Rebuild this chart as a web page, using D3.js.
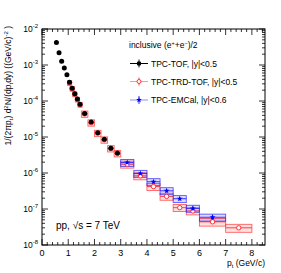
<!DOCTYPE html>
<html>
<head>
<meta charset="utf-8">
<script src="https://cdn.jsdelivr.net/npm/d3@7"></script>
<style>
  body { margin: 0; background: #fff; }
  text { font-family: "Liberation Sans", Arial, sans-serif; fill: #000; }
</style>
</head>
<body>
<div id="vis"></div>
<script>
// data
// TPC-TOF, |y|<0.5
const ptTof = [0.55, 0.65, 0.75, 0.85, 0.95, 1.05, 1.15, 1.25, 1.35, 1.45, 1.625, 1.875, 2.125, 2.375, 2.625, 2.875];
const yTof = [4.2e-3, 2.2e-3, 1.28e-3, 8.2e-4, 5.4e-4, 3.3e-4, 2.25e-4, 1.6e-4, 1.14e-4, 8.1e-5, 4.5e-5, 2.6e-5, 1.31e-5, 8.6e-6, 4.9e-6, 3.6e-6];

// TPC-TRD-TOF, |y|<0.5
const ptTrd = [1.05, 1.15, 1.25, 1.35, 1.45, 1.625, 1.875, 2.125, 2.375, 2.625, 2.875, 3.25, 3.75, 4.25, 4.75, 5.25, 5.75, 6.5, 7.5];
const binTrd = [0.1, 0.1, 0.1, 0.1, 0.1, 0.25, 0.25, 0.25, 0.25, 0.25, 0.25, 0.5, 0.5, 0.5, 0.5, 0.5, 0.5, 1, 1];
const yTrd = [3.2e-4, 2.2e-4, 1.55e-4, 1.1e-4, 7.9e-5, 4.4e-5, 2.5e-5, 1.28e-5, 8.4e-6, 4.8e-6, 3.5e-6, 1.75e-6, 8.3e-7, 4.2e-7, 2.24e-7, 1.09e-7, 8.8e-8, 4.4e-8, 3.0e-8];
const sysTrd = [0.15, 0.15, 0.15, 0.15, 0.15, 0.2, 0.2, 0.2, 0.2, 0.2, 0.2, 0.22, 0.22, 0.22, 0.22, 0.22, 0.22, 0.24, 0.25];

// TPC-EMCal, |y|<0.6
const ptEmc = [3.25, 3.75, 4.25, 4.75, 5.25, 5.75, 6.5];
const binEmc = [0.5, 0.5, 0.5, 0.5, 0.5, 0.5, 1];
const yEmc = [1.95e-6, 9.7e-7, 5.7e-7, 3.2e-7, 1.93e-7, 1.04e-7, 5.9e-8];
const sysEmc = [0.22, 0.22, 0.22, 0.22, 0.22, 0.22, 0.22];
const statEmc = [0.08, 0.08, 0.09, 0.1, 0.1, 0.12, 0.14];

const yTicks = [1e-8, 1e-7, 1e-6, 1e-5, 1e-4, 1e-3, 1e-2];
const xTicks = [0, 1, 2, 3, 4, 5, 6, 7, 8];

// frame
const margin = { top: 29, right: 16, bottom: 28, left: 42 };
const W = 281, H = 273;
const width = W - margin.left - margin.right;
const height = H - margin.top - margin.bottom;

const svg = d3.select('#vis')
    .append('svg')
    .attr('width', W)
    .attr('height', H);

const g = svg.append('g')
    .attr('transform', `translate(${margin.left},${margin.top})`);

// scales
const xScale = d3.scaleLinear().domain([0, 8.5]).range([0, width]);
const yScale = d3.scaleLog().domain([1e-8, 1e-2]).range([height, 0]);

// ticks (ROOT style, inward, on all four sides)
const xMinor = d3.range(0, 8.5001, 0.2).filter(v => Math.abs(v - Math.round(v)) > 1e-6);
const yMinor = [];
for (let e = -8; e < -2; e++) for (let k = 2; k <= 9; k++) yMinor.push(k * Math.pow(10, e));

const ticks = g.append('g').attr('stroke', '#000').attr('stroke-width', 0.8);
[[xTicks, 6], [xMinor, 3]].forEach(([vals, len]) => {
    vals.forEach(v => {
        const x = xScale(v);
        ticks.append('line').attr('x1', x).attr('x2', x).attr('y1', height).attr('y2', height - len);
        ticks.append('line').attr('x1', x).attr('x2', x).attr('y1', 0).attr('y2', len);
    });
});
[[yTicks, 6], [yMinor, 3]].forEach(([vals, len]) => {
    vals.forEach(v => {
        const y = yScale(v);
        ticks.append('line').attr('x1', 0).attr('x2', len).attr('y1', y).attr('y2', y);
        ticks.append('line').attr('x1', width).attr('x2', width - len).attr('y1', y).attr('y2', y);
    });
});

g.append('rect')
    .attr('width', width).attr('height', height)
    .attr('fill', 'none').attr('stroke', '#000').attr('stroke-width', 1);

// tick labels
g.selectAll('.xlab').data(xTicks).join('text')
    .attr('class', 'xlab')
    .attr('x', d => xScale(d)).attr('y', height + 11)
    .attr('text-anchor', 'middle').attr('font-size', 9)
    .text(d => d);

const ylab = g.selectAll('.ylab').data(yTicks).join('text')
    .attr('class', 'ylab')
    .attr('x', -4).attr('y', d => yScale(d) + 3)
    .attr('text-anchor', 'end').attr('font-size', 8.5);
ylab.append('tspan').text('10');
ylab.append('tspan').attr('dy', -4).attr('font-size', 6).text(d => Math.round(Math.log10(d)));

// axis titles
const xt = g.append('text')
    .attr('x', width).attr('y', height + 21)
    .attr('text-anchor', 'end').attr('font-size', 8.5);
xt.append('tspan').text('p');
xt.append('tspan').attr('dy', 2).attr('font-size', 6).text('t');
xt.append('tspan').attr('dy', -2).text(' (GeV/c)');

const yt = svg.append('text')
    .attr('transform', `translate(11,${margin.top - 3}) rotate(-90)`)
    .attr('text-anchor', 'end').attr('font-size', 8.5);
yt.append('tspan').text('1/(2πp');
yt.append('tspan').attr('dy', 2).attr('font-size', 6).text('t');
yt.append('tspan').attr('dy', -2).text(') d');
yt.append('tspan').attr('dy', -3).attr('font-size', 6).text('2');
yt.append('tspan').attr('dy', 3).text('N/(dp');
yt.append('tspan').attr('dy', 2).attr('font-size', 6).text('t');
yt.append('tspan').attr('dy', -2).text('dy) ((GeV/c)');
yt.append('tspan').attr('dy', -3).attr('font-size', 6).text('-2');
yt.append('tspan').attr('dy', 3).text(' )');

// systematic boxes
const trd = ptTrd.map((p, i) => ({ p, w: binTrd[i], y: yTrd[i], s: sysTrd[i] }));
const emc = ptEmc.map((p, i) => ({ p, w: binEmc[i], y: yEmc[i], s: sysEmc[i], st: statEmc[i] }));
const tof = ptTof.map((p, i) => ({ p, y: yTof[i] }));

function boxes(data, color, cls) {
    g.selectAll('.' + cls).data(data).join('rect')
        .attr('class', cls)
        .attr('x', d => xScale(d.p - Math.max(d.w, 0.16) / 2))
        .attr('width', d => xScale(Math.max(d.w, 0.16)) - xScale(0))
        .attr('y', d => yScale(d.y * (1 + d.s)))
        .attr('height', d => yScale(d.y * (1 - d.s)) - yScale(d.y * (1 + d.s)))
        .attr('fill', color).attr('fill-opacity', 0.15)
        .attr('stroke', color).attr('stroke-opacity', 0.75).attr('stroke-width', 0.9);
    // x error line
    g.selectAll('.' + cls + 'x').data(data).join('line')
        .attr('class', cls + 'x')
        .attr('x1', d => xScale(d.p - d.w / 2)).attr('x2', d => xScale(d.p + d.w / 2))
        .attr('y1', d => yScale(d.y)).attr('y2', d => yScale(d.y))
        .attr('stroke', color).attr('stroke-width', 0.9);
}

boxes(trd, '#ff3030', 'trd');
boxes(emc, '#2020ff', 'emc');

// markers
g.selectAll('.trdm').data(trd).join('circle')
    .attr('class', 'trdm')
    .attr('cx', d => xScale(d.p)).attr('cy', d => yScale(d.y))
    .attr('r', 2.2).attr('fill', '#fff').attr('stroke', '#ff2020').attr('stroke-width', 0.9);

g.selectAll('.emcs').data(emc).join('line')
    .attr('class', 'emcs')
    .attr('x1', d => xScale(d.p)).attr('x2', d => xScale(d.p))
    .attr('y1', d => yScale(d.y * (1 + d.st))).attr('y2', d => yScale(d.y * (1 - d.st)))
    .attr('stroke', '#0000ff').attr('stroke-width', 1.3);

g.selectAll('.emcm').data(emc).join('path')
    .attr('class', 'emcm')
    .attr('transform', d => `translate(${xScale(d.p)},${yScale(d.y)})`)
    .attr('d', d3.symbol(d3.symbolStar, 11))
    .attr('fill', '#0000ff');

g.selectAll('.tofm').data(tof).join('circle')
    .attr('class', 'tofm')
    .attr('cx', d => xScale(d.p)).attr('cy', d => yScale(d.y))
    .attr('r', 2.5).attr('fill', '#000');

// legend
svg.append('text')
    .attr('x', 129).attr('y', 48).attr('font-size', 8.5)
    .call(t => {
        t.append('tspan').text('inclusive (e');
        t.append('tspan').attr('dy', -3).attr('font-size', 5.5).text('+');
        t.append('tspan').attr('dy', 3).text('+e');
        t.append('tspan').attr('dy', -3).attr('font-size', 5.5).text('−');
        t.append('tspan').attr('dy', 3).text(')/2');
    });

const legend = [
    { label: 'TPC-TOF, |y|<0.5', color: '#000', y: 63.5 },
    { label: 'TPC-TRD-TOF, |y|<0.5', color: '#ff3030', y: 81.5 },
    { label: 'TPC-EMCal, |y|<0.6', color: '#2020ff', y: 100 }
];
const lg = svg.selectAll('.leg').data(legend).join('g').attr('class', 'leg')
    .attr('transform', d => `translate(0,${d.y})`);
lg.append('line').attr('x1', 130).attr('x2', 148).attr('stroke', d => d.color)
    .attr('stroke-opacity', (d, i) => i ? 0.5 : 1).attr('stroke-width', 1);
lg.append('line').attr('x1', 139).attr('x2', 139).attr('y1', -4).attr('y2', 4).attr('stroke', d => d.color)
    .attr('stroke-width', 0.9);
lg.filter((d, i) => i === 0).append('circle').attr('cx', 139).attr('r', 2.3).attr('fill', '#000');
lg.filter((d, i) => i === 1).append('circle').attr('cx', 139).attr('r', 2).attr('fill', '#fff')
    .attr('stroke', '#ff2020').attr('stroke-width', 0.9);
lg.filter((d, i) => i === 2).append('path').attr('transform', 'translate(139,0)')
    .attr('d', d3.symbol(d3.symbolStar, 11)).attr('fill', '#0000ff');
lg.append('text').attr('x', 151).attr('y', 3).attr('font-size', 8.5).text(d => d.label);

// collision label
svg.append('text')
    .attr('x', 56).attr('y', 228.5).attr('font-size', 10)
    .text('pp, √s = 7 TeV');
</script>
</body>
</html>
